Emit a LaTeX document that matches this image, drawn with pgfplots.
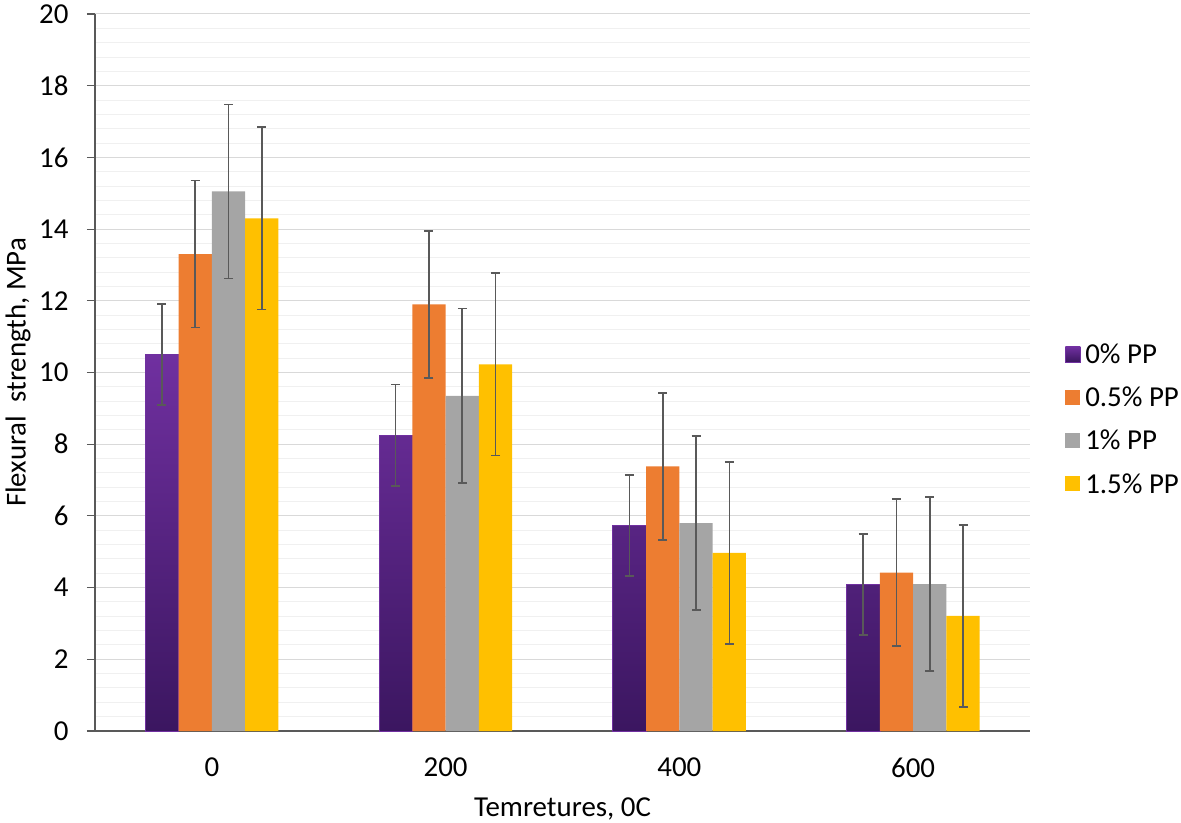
\documentclass[border=0pt]{standalone}
\usepackage{pgfplots}
\pgfplotsset{compat=1.18}
\usepackage{fontspec}
\setmainfont{Carlito}
\definecolor{c1top}{HTML}{7030A0}
\definecolor{c1bot}{HTML}{3B1660}
\definecolor{c2}{HTML}{ED7D31}
\definecolor{c3}{HTML}{A5A5A5}
\definecolor{c4}{HTML}{FFC000}
\definecolor{errc}{HTML}{595959}
\definecolor{gridmaj}{HTML}{D9D9D9}
\definecolor{gridmin}{HTML}{F0F0F0}
\pgfplotsset{myerr/.style={error bars/y dir=both, error bars/y explicit,
    error bars/error bar style={errc, line width=1.6bp},
    error bars/error mark options={rotate=90, mark size=4.5bp, errc, line width=1.6bp}}}
\begin{document}
\begin{tikzpicture}
\path[use as bounding box] (-95bp,-92bp) rectangle (1086bp,731bp);
\begin{axis}[at={(0,0)}, anchor=south west, scale only axis,
  width=935bp, height=717bp,
  ybar=0pt, bar width=0.1425,
  xmin=-0.5, xmax=3.5, ymin=0, ymax=20,
  xtick={0,1,2,3}, xticklabels={0,200,400,600},
  ytick={0,2,...,20}, minor y tick num=4,
  /pgf/number format/assume math mode=true,
  ymajorgrids, yminorgrids,
  major grid style={color=gridmaj, line width=1bp},
  minor grid style={color=gridmin, line width=1bp},
  axis x line*=bottom, axis y line*=left,
  x axis line style={errc, line width=1.3bp},
  y axis line style={errc, line width=1.1bp},
  tick align=outside, major tick length=8bp, minor tick length=0pt,
  xtick style={draw=none}, ytick style={errc, line width=1.1bp},
  tick label style={font=\fontsize{29}{34}\selectfont, color=black},
  yticklabel shift=15bp,
  xticklabel shift=15bp,
  xlabel={Temretures, 0C},
  ylabel={Flexural\ \ strength, MPa},
  label style={font=\fontsize{29}{34}\selectfont},
  xlabel style={at={(axis description cs:0.5,-0.1088)}, anchor=center},
  ylabel style={at={(axis description cs:-0.0824,0.5)}, anchor=center},
  legend style={at={(1.0342,0.435)}, anchor=west, draw=none, fill=none,
    font=\fontsize{29}{34}\selectfont, row sep=13bp,
    /tikz/every node/.append style={inner sep=4.5bp}},
  legend cell align=left,
  legend image code/.code={\path[#1] (0bp,-7.5bp) rectangle (15bp,7.5bp);},
]
\addplot[draw=c1top, line width=0.6bp, top color=c1top, bottom color=c1bot, myerr]
  coordinates {(0,10.50) +- (0,1.41) (1,8.25) +- (0,1.41) (2,5.73) +- (0,1.41) (3,4.08) +- (0,1.41)};
\addplot[draw=none, fill=c2, myerr]
  coordinates {(0,13.30) +- (0,2.05) (1,11.90) +- (0,2.05) (2,7.38) +- (0,2.05) (3,4.42) +- (0,2.05)};
\addplot[draw=none, fill=c3, myerr]
  coordinates {(0,15.05) +- (0,2.43) (1,9.35) +- (0,2.43) (2,5.80) +- (0,2.43) (3,4.10) +- (0,2.43)};
\addplot[draw=none, fill=c4, myerr]
  coordinates {(0,14.30) +- (0,2.54) (1,10.23) +- (0,2.54) (2,4.97) +- (0,2.54) (3,3.21) +- (0,2.54)};
\legend{0\% PP, 0.5\% PP, 1\% PP, 1.5\% PP}
\end{axis}
\end{tikzpicture}
\end{document}
